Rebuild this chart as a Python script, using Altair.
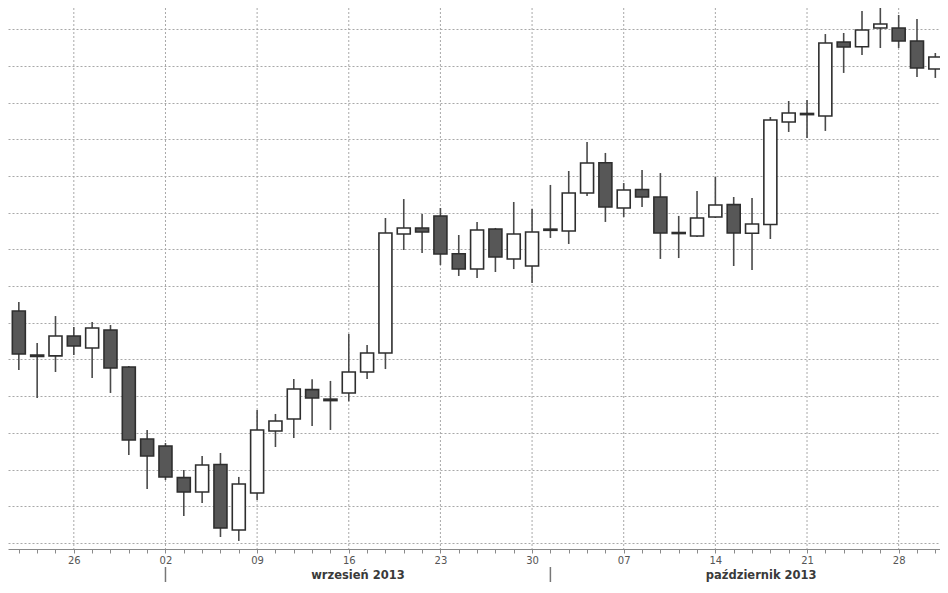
import altair as alt
import pandas as pd

# ---- data ----
dates = [
    "2013-08-20", "2013-08-21", "2013-08-22", "2013-08-23",
    "2013-08-26", "2013-08-27", "2013-08-28", "2013-08-29", "2013-08-30",
    "2013-09-02", "2013-09-03", "2013-09-04", "2013-09-05", "2013-09-06",
    "2013-09-09", "2013-09-10", "2013-09-11", "2013-09-12", "2013-09-13",
    "2013-09-16", "2013-09-17", "2013-09-18", "2013-09-19", "2013-09-20",
    "2013-09-23", "2013-09-24", "2013-09-25", "2013-09-26", "2013-09-27",
    "2013-09-30", "2013-10-01", "2013-10-02", "2013-10-03", "2013-10-04",
    "2013-10-07", "2013-10-08", "2013-10-09", "2013-10-10", "2013-10-11",
    "2013-10-14", "2013-10-15", "2013-10-16", "2013-10-17", "2013-10-18",
    "2013-10-21", "2013-10-22", "2013-10-23", "2013-10-24", "2013-10-25",
    "2013-10-28", "2013-10-29", "2013-10-30",
]
opens = [
    2393.5, 2433.0, 2403.0, 2402.5, 2416.0, 2407.8, 2420.1, 2394.9, 2345.8,
    2341.1, 2319.5, 2309.7, 2328.5, 2283.9, 2309.1, 2351.3, 2359.5, 2379.5,
    2373.0, 2377.2, 2391.5, 2404.4, 2485.5, 2489.6, 2497.8, 2472.0, 2461.6,
    2488.9, 2468.5, 2463.7, 2488.8, 2487.5, 2513.4, 2534.0, 2503.2, 2515.8,
    2510.7, 2486.5, 2484.1, 2497.1, 2505.5, 2486.0, 2492.0, 2561.8, 2567.6,
    2565.9, 2616.3, 2613.0, 2625.8, 2625.8, 2617.0, 2597.9,
]
highs = [
    2451.4, 2439.2, 2411.2, 2429.6, 2422.1, 2425.5, 2423.5, 2395.6, 2352.0,
    2343.1, 2324.7, 2334.3, 2336.3, 2320.0, 2365.6, 2362.9, 2386.7, 2386.5,
    2385.4, 2417.4, 2409.9, 2496.4, 2509.3, 2499.1, 2503.2, 2484.8, 2493.7,
    2489.6, 2507.3, 2502.5, 2518.9, 2528.4, 2548.2, 2540.7, 2520.2, 2529.1,
    2527.0, 2497.8, 2514.8, 2524.3, 2510.7, 2510.0, 2565.2, 2576.1, 2576.8,
    2621.7, 2622.4, 2637.4, 2641.5, 2634.7, 2631.9, 2608.8,
]
lows = [
    2386.7, 2392.8, 2373.8, 2391.5, 2403.1, 2387.4, 2377.2, 2334.9, 2311.8,
    2317.9, 2293.4, 2302.2, 2279.1, 2276.4, 2304.3, 2340.4, 2346.5, 2354.7,
    2352.0, 2371.5, 2386.7, 2393.5, 2474.6, 2472.5, 2464.4, 2456.9, 2455.5,
    2459.6, 2461.6, 2452.1, 2482.8, 2478.7, 2511.4, 2493.7, 2497.1, 2503.9,
    2468.5, 2469.1, 2483.4, 2496.4, 2463.7, 2461.0, 2482.1, 2555.0, 2550.9,
    2555.7, 2595.2, 2607.4, 2612.2, 2612.2, 2592.4, 2591.8,
]
closes = [
    2433.0, 2403.7, 2402.0, 2416.0, 2409.2, 2421.5, 2394.2, 2345.2, 2334.3,
    2320.0, 2309.7, 2328.1, 2285.2, 2315.2, 2352.0, 2358.1, 2379.9, 2373.8,
    2372.0, 2391.5, 2404.4, 2486.2, 2489.6, 2486.9, 2471.9, 2461.6, 2488.2,
    2469.8, 2485.5, 2486.9, 2488.0, 2513.4, 2533.9, 2503.9, 2515.5, 2510.7,
    2486.2, 2485.8, 2496.4, 2505.2, 2486.2, 2492.3, 2563.1, 2567.9, 2566.8,
    2615.6, 2612.9, 2624.5, 2628.5, 2617.0, 2598.6, 2606.1,
]

week_idx = [4, 9, 14, 19, 24, 29, 34, 39, 44, 49]
week_labels = ["26", "02", "09", "16", "23", "30", "07", "14", "21", "28"]

month_pos = [-2.0, 19.5, 41.5]
month_names = ["sierpień 2013", "wrzesień 2013", "październik 2013"]
month_starts = [9, 30]

grid_values = [2275 + 25 * k for k in range(15)]

# ---- tables ----
df = pd.DataFrame({
    "i": list(range(len(dates))),
    "date": dates,
    "open": opens,
    "high": highs,
    "low": lows,
    "close": closes,
})
df["dir"] = ["up" if c >= o else "down" for o, c in zip(opens, closes)]

weeks = pd.DataFrame({"i": week_idx, "lab": week_labels})
months = pd.DataFrame({"i": month_pos, "name": month_names})
seps = pd.DataFrame({"i": month_starts})

label_expr = " : ".join(
    f"datum.value == {i} ? '{l}'" for i, l in zip(week_idx, week_labels)
) + " : ''"

W, H = 932, 541
FONT = "DejaVu Sans"

xscale = alt.Scale(domain=[0.409, 51.255], nice=False, zero=False, padding=0)
yscale = alt.Scale(domain=[2270.91, 2639.44], nice=False, zero=False, padding=0)

xaxis = alt.Axis(
    values=list(range(len(dates))),
    labelExpr=label_expr,
    grid=False,
    ticks=True,
    tickSize=4,
    tickColor="#8a8a8a",
    domainColor="#8a8a8a",
    labelColor="#555555",
    labelFont=FONT,
    labelFontSize=10,
    labelPadding=2,
    labelOverlap=False,
    labelFlush=False,
    title=None,
)
yaxis = alt.Axis(
    values=grid_values,
    grid=True,
    gridDash=[2, 2],
    gridColor="#a8a8a8",
    gridWidth=1,
    labels=False,
    ticks=False,
    domain=False,
    title=None,
)

X = alt.X("i:Q", scale=xscale, axis=xaxis)

vgrid = alt.Chart(weeks).mark_rule(
    strokeDash=[2, 2], color="#a8a8a8", strokeWidth=1
).encode(x=X)

wicks = alt.Chart(df).mark_rule(color="#4a4a4a", strokeWidth=1.6).encode(
    x=X,
    y=alt.Y("low:Q", scale=yscale, axis=yaxis),
    y2="high:Q",
)

bodies = alt.Chart(df).mark_bar(
    size=13, stroke="#2e2e2e", strokeWidth=1.6
).encode(
    x=X,
    y=alt.Y("open:Q", scale=yscale, axis=yaxis),
    y2="close:Q",
    color=alt.Color(
        "dir:N",
        scale=alt.Scale(domain=["up", "down"], range=["#ffffff", "#575757"]),
        legend=None,
    ),
)

month_text = alt.Chart(months).mark_text(
    font=FONT, fontSize=11.5, fontWeight="bold", color="#3a3a3a",
    baseline="middle", align="center",
).encode(x=X, y=alt.value(568), text="name:N")

sep_rules = alt.Chart(seps).mark_rule(color="#777777", strokeWidth=1.5).encode(
    x=X, y=alt.value(559), y2=alt.value(574)
)

chart = alt.layer(vgrid, wicks, bodies, month_text, sep_rules).properties(
    width=W,
    height=H,
    autosize=alt.AutoSizeParams(type="none"),
    padding={"left": 0, "top": 0, "right": 0, "bottom": 33},
    background="#ffffff",
).configure_view(strokeWidth=0).configure_scale(continuousPadding=0)

chart.save("out.html", embed_options={"renderer": "svg", "actions": False})
